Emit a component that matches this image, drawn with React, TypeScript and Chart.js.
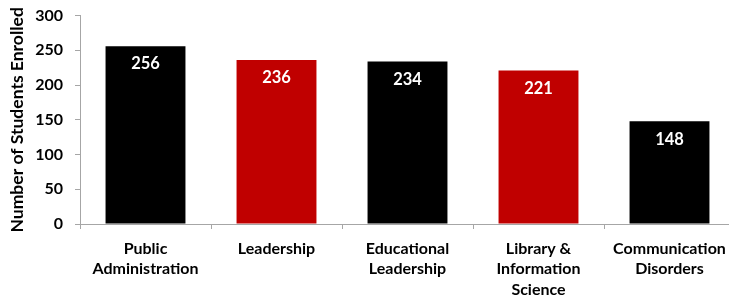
import React, { useEffect, useRef } from "react";
import { Chart, registerables } from "chart.js";

Chart.register(...registerables);

const categories: string[][] = [
  ["Public", "Administration"],
  ["Leadership"],
  ["Educational", "Leadership"],
  ["Library &", "Information", "Science"],
  ["Communication", "Disorders"],
];
const enrolled: number[] = [256, 236, 234, 221, 148];
const barColors: string[] = ["#000000", "#C00000", "#000000", "#C00000", "#000000"];
const yTicks: number[] = [0, 50, 100, 150, 200, 250, 300];

const FONT = "Lato, 'Liberation Sans', sans-serif";
const AXIS = "#A6A6A6";

const valueLabels = {
  id: "valueLabels",
  afterDatasetsDraw(chart: any) {
    const ctx = chart.ctx;
    const meta = chart.getDatasetMeta(0);
    ctx.save();
    ctx.fillStyle = "#FFFFFF";
    ctx.font = `bold 16.5px ${FONT}`;
    ctx.textAlign = "center";
    ctx.textBaseline = "middle";
    meta.data.forEach((bar: any, i: number) => {
      ctx.fillText(String(enrolled[i]), bar.x, bar.y + 18);
    });
    ctx.restore();
  },
};

export default function App() {
  const ref = useRef<HTMLCanvasElement | null>(null);
  useEffect(() => {
    if (!ref.current) return;
    const chart = new Chart(ref.current, {
      type: "bar",
      data: {
        labels: categories,
        datasets: [
          {
            data: enrolled,
            backgroundColor: barColors,
            borderWidth: 0,
            barPercentage: 0.61,
            categoryPercentage: 1,
          },
        ],
      },
      options: {
        responsive: false,
        animation: false,
        maintainAspectRatio: false,
        layout: { padding: { top: 0, left: 0, right: 0, bottom: 0 } },
        plugins: { legend: { display: false }, tooltip: { enabled: false } },
        scales: {
          x: {
            grid: {
              display: true,
              drawOnChartArea: false,
              drawTicks: true,
              tickLength: 5,
              color: AXIS,
              offset: true,
            },
            border: { display: true, color: AXIS, width: 1 },
            ticks: {
              color: "#000000",
              font: { family: FONT, size: 16, weight: "bold", lineHeight: 1.3 },
              padding: 9,
              maxRotation: 0,
              autoSkip: false,
            },
            afterFit(scale: any) {
              scale.height = 76;
            },
          },
          y: {
            min: 0,
            max: 300,
            afterBuildTicks(scale: any) {
              scale.ticks = yTicks.map((v) => ({ value: v }));
            },
            grid: {
              display: true,
              drawOnChartArea: false,
              drawTicks: true,
              tickLength: 5,
              color: AXIS,
            },
            border: { display: true, color: AXIS, width: 1 },
            ticks: {
              color: "#000000",
              font: { family: FONT, size: 16, weight: "bold" },
              padding: 12,
            },
            title: {
              display: true,
              text: "Number of Students Enrolled",
              color: "#000000",
              font: { family: FONT, size: 17.5, weight: "bold" },
              padding: { top: 7, bottom: 3 },
            },
            afterFit(scale: any) {
              scale.width = 80;
            },
          },
        },
      },
      plugins: [valueLabels],
    });
    return () => chart.destroy();
  }, []);
  return (
    <div
      style={{
        position: "fixed",
        left: 0,
        top: 0,
        width: 729,
        height: 300,
        overflow: "hidden",
        background: "#FFFFFF",
      }}
    >
      <canvas
        ref={ref}
        width={735}
        height={306}
        style={{ display: "block", marginTop: -6 }}
      />
    </div>
  );
}
